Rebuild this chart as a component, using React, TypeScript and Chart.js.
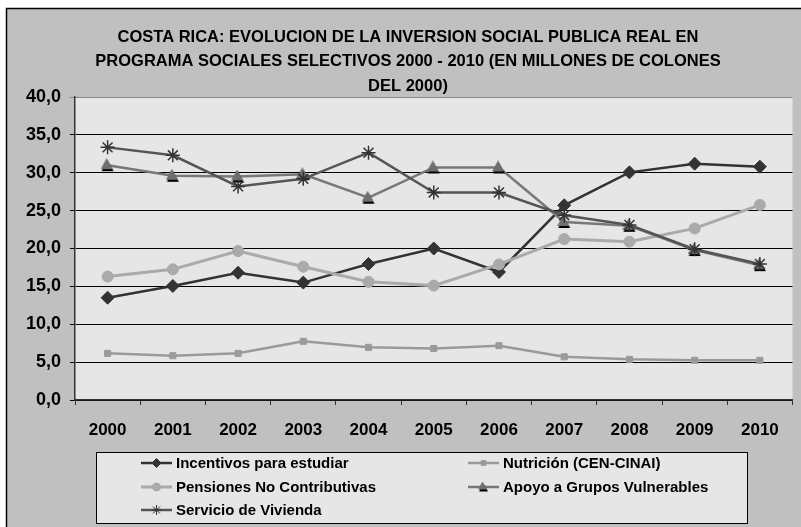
import React, { useEffect, useRef } from 'react';
import { Chart, registerables } from 'chart.js';
import { drawPoint } from 'chart.js/helpers';

Chart.register(...registerables);

const years = ['2000', '2001', '2002', '2003', '2004', '2005', '2006', '2007', '2008', '2009', '2010'];
const incentivos = [13.5, 15.05, 16.8, 15.5, 17.95, 20.0, 16.9, 25.7, 30.05, 31.2, 30.8];
const nutricion = [6.16, 5.85, 6.16, 7.75, 6.95, 6.8, 7.17, 5.7, 5.37, 5.24, 5.24];
const pensiones = [16.3, 17.25, 19.67, 17.6, 15.6, 15.1, 17.9, 21.25, 20.9, 22.65, 25.75];
const apoyo = [31.0, 29.6, 29.5, 29.8, 26.7, 30.7, 30.7, 23.5, 23.0, 19.8, 17.8];
const vivienda = [33.35, 32.3, 28.2, 29.2, 32.65, 27.4, 27.4, 24.4, 23.1, 19.9, 17.95];

const seriesNames = [
  'Incentivos para estudiar',
  'Nutrición (CEN-CINAI)',
  'Pensiones No Contributivas',
  'Apoyo a Grupos Vulnerables',
  'Servicio de Vivienda',
];
const titleLines = [
  'COSTA RICA: EVOLUCION DE LA INVERSION SOCIAL PUBLICA REAL EN',
  'PROGRAMA SOCIALES SELECTIVOS 2000 - 2010 (EN MILLONES DE COLONES',
  'DEL 2000)',
];
const yMin = 0;
const yMax = 40;
const yStep = 5;

function makeTriangle(w: number, h: number, fill: string): HTMLCanvasElement {
  const c = document.createElement('canvas');
  c.width = w + 2;
  c.height = h + 3;
  const ctx = c.getContext('2d')!;
  const tri = (dx: number, dy: number, color: string) => {
    ctx.beginPath();
    ctx.moveTo(w / 2 + dx, dy);
    ctx.lineTo(w + dx, h + dy);
    ctx.lineTo(dx, h + dy);
    ctx.closePath();
    ctx.fillStyle = color;
    ctx.fill();
  };
  tri(1, 2, '#000000');
  tri(0, 0, fill);
  return c;
}

export default function App() {
  const ref = useRef<HTMLCanvasElement | null>(null);

  useEffect(() => {
    if (!ref.current) return;
    const triImg = makeTriangle(12, 11, '#6e6e6e');
    const triSmall = makeTriangle(9, 8, '#6e6e6e');

    const styles = [
      { color: '#333333', point: 'rectRot', radius: 6.5, lw: 2.5, pfill: '#333333', pborder: '#333333', lr: 4.5 },
      { color: '#9a9a9a', point: 'rect', radius: 4.3, lw: 2.5, pfill: '#9a9a9a', pborder: '#9a9a9a', lr: 3.3 },
      { color: '#aaaaaa', point: 'circle', radius: 5.5, lw: 3, pfill: '#aaaaaa', pborder: '#aaaaaa', lr: 4 },
      { color: '#787878', point: 'tri', radius: 6, lw: 2.5, pfill: '#6e6e6e', pborder: '#6e6e6e', lr: 4.5 },
      { color: '#555555', point: 'star', radius: 7, lw: 2.5, pfill: '#333333', pborder: '#333333', lr: 5 },
    ];
    const data = [incentivos, nutricion, pensiones, apoyo, vivienda];

    const framePlugin = {
      id: 'frame',
      beforeDraw(chart: any) {
        const { ctx, width, height, chartArea } = chart;
        ctx.save();
        ctx.fillStyle = '#ffffff';
        ctx.fillRect(0, 0, width, height);
        ctx.fillStyle = '#c0c0c0';
        ctx.fillRect(6, 8, width, height);
        ctx.strokeStyle = '#000000';
        ctx.lineWidth = 1.5;
        ctx.strokeRect(6.5, 8.5, width + 20, height + 20);
        ctx.fillStyle = '#e6e6e6';
        ctx.fillRect(chartArea.left, chartArea.top, chartArea.right - chartArea.left, chartArea.bottom - chartArea.top);
        ctx.restore();
      },
      afterDraw(chart: any) {
        const { ctx } = chart;
        ctx.save();
        // title
        ctx.fillStyle = '#000000';
        ctx.font = 'bold 16.5px "Liberation Sans", Arial, sans-serif';
        ctx.textAlign = 'center';
        ctx.textBaseline = 'middle';
        const ty = [37, 61, 86];
        titleLines.forEach((t, i) => ctx.fillText(t, 408, ty[i]));

        // legend
        const lx = 96, ly = 452, lw = 651, lh = 71;
        ctx.fillStyle = '#e6e6e6';
        ctx.fillRect(lx, ly, lw, lh);
        ctx.strokeStyle = '#000000';
        ctx.lineWidth = 1;
        ctx.strokeRect(lx + 0.5, ly + 0.5, lw, lh);
        const rows = [463, 487, 510];
        const cols = [141, 468];
        ctx.font = 'bold 15px "Liberation Sans", Arial, sans-serif';
        ctx.textAlign = 'left';
        seriesNames.forEach((name, i) => {
          const s = styles[i];
          const x0 = cols[i % 2];
          const y = rows[Math.floor(i / 2)];
          ctx.strokeStyle = s.color;
          ctx.lineWidth = s.lw;
          ctx.beginPath();
          ctx.moveTo(x0, y);
          ctx.lineTo(x0 + 31, y);
          ctx.stroke();
          const cx = x0 + 15.5;
          if (s.point === 'tri') {
            ctx.drawImage(triSmall, cx - triSmall.width / 2, y - triSmall.height / 2);
          } else {
            ctx.fillStyle = s.pfill;
            ctx.strokeStyle = s.pborder;
            ctx.lineWidth = 1;
            drawPoint(ctx, { pointStyle: s.point, rotation: 0, radius: s.lr, borderWidth: 1 } as any, cx, y);
          }
          ctx.fillStyle = '#000000';
          ctx.fillText(name, x0 + 35, y + 1);
        });
        ctx.restore();
      },
    };

    const chart = new Chart(ref.current, {
      type: 'line',
      data: {
        labels: years,
        datasets: seriesNames.map((name, i) => {
          const s = styles[i];
          return {
            label: name,
            data: data[i],
            borderColor: s.color,
            backgroundColor: s.pfill,
            borderWidth: s.lw,
            pointStyle: s.point === 'tri' ? triImg : s.point,
            pointRadius: s.radius,
            pointBackgroundColor: s.pfill,
            pointBorderColor: s.pborder,
            pointBorderWidth: s.point === 'star' ? 1.5 : 1,
            tension: 0,
            fill: false,
            order: 5 - i,
          } as any;
        }),
      },
      options: {
        animation: false,
        responsive: true,
        maintainAspectRatio: false,
        layout: { padding: { top: 97, left: 0, right: 0, bottom: 0 } },
        plugins: {
          legend: { display: false },
          title: { display: false },
          tooltip: { enabled: false },
        },
        scales: {
          x: {
            type: 'category',
            offset: true,
            afterFit: (scale: any) => {
              scale.height = 127;
            },
            grid: {
              offset: true,
              drawOnChartArea: false,
              drawTicks: true,
              tickLength: 5,
              color: '#333333',
            },
            border: { display: true, color: '#333333', width: 1.5 },
            ticks: {
              autoSkip: false,
              maxRotation: 0,
              color: '#000000',
              padding: 15,
              font: { family: '"Liberation Sans", Arial, sans-serif', size: 17, weight: 'bold' },
            },
          },
          y: {
            min: yMin,
            max: yMax,
            afterFit: (scale: any) => {
              scale.width = 75;
            },
            grid: {
              color: (c: any) => (c.tick && c.tick.value === yMax ? '#888888' : '#000000'),
              lineWidth: 1,
              tickLength: 5,
            },
            border: { display: true, color: '#333333', width: 1.5 },
            ticks: {
              stepSize: yStep,
              color: '#000000',
              padding: 9,
              font: { family: '"Liberation Sans", Arial, sans-serif', size: 18, weight: 'bold' },
              callback: (v: any) => Number(v).toFixed(1).replace('.', ','),
            },
          },
        },
      },
      plugins: [framePlugin],
    });
    return () => chart.destroy();
  }, []);

  return (
    <div style={{ position: 'absolute', left: 0, top: 0, width: 801, height: 527, overflow: 'hidden' }}>
      <canvas ref={ref} />
    </div>
  );
}
